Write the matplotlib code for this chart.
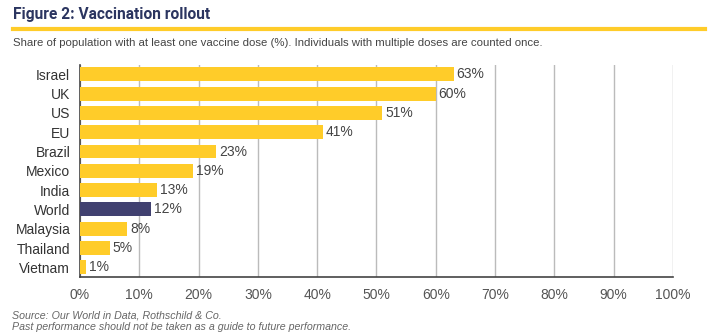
import matplotlib
matplotlib.use("Agg")
import matplotlib.pyplot as plt
import numpy as np

# data
countries = ["Israel", "UK", "US", "EU", "Brazil", "Mexico", "India",
             "World", "Malaysia", "Thailand", "Vietnam"]
share = [63, 60, 51, 41, 23, 19, 13, 12, 8, 5, 1]
xticks = [0, 10, 20, 30, 40, 50, 60, 70, 80, 90, 100]

yellow = "#FFCC29"
navy = "#414170"
grey = "#555555"

plt.rcParams["font.family"] = ["Liberation Sans", "DejaVu Sans"]

fig = plt.figure(figsize=(7.09, 3.36), dpi=100)
ax = fig.add_axes([0.1128, 0.1756, 0.8364, 0.632])

y = np.arange(len(countries))
colors = [navy if c == "World" else yellow for c in countries]
ax.barh(y, share, height=0.72, color=colors, zorder=3)
for yi, v in zip(y, share):
    ax.text(v + 0.5, yi, f"{v}%", va="center", ha="left", fontsize=10,
            color="#444444", zorder=4)

ax.set_ylim(len(countries) - 0.5, -0.5)
ax.set_yticks(y)
ax.set_yticklabels(countries, fontsize=10, color="#333333")
ax.set_xlim(0, 100)
ax.set_xticks(xticks)
ax.set_xticklabels([f"{t}%" for t in xticks], fontsize=10, color=grey)
ax.tick_params(axis="both", length=0, pad=8)
ax.tick_params(axis="y", pad=7)
ax.grid(axis="x", color="#BBBBBB", linewidth=1, zorder=0)
for s in ["top", "right"]:
    ax.spines[s].set_visible(False)
ax.spines["left"].set_color("#444444")
ax.spines["bottom"].set_color("#444444")
ax.spines["left"].set_linewidth(1.2)
ax.spines["bottom"].set_linewidth(1.2)

fig.text(0.018, 0.957, "Figure 2: Vaccination rollout", fontsize=11.2,
         color="#2B3560", va="center", ha="left", weight="bold",
         family=["Roboto", "Liberation Sans", "DejaVu Sans"])
fig.add_artist(plt.Line2D([0.018, 0.995], [0.913, 0.913], color=yellow,
                          linewidth=3, transform=fig.transFigure))
fig.text(0.018, 0.872, "Share of population with at least one vaccine dose (%). "
         "Individuals with multiple doses are counted once.",
         fontsize=8.2, color="#444444", va="center", ha="left")
fig.text(0.017, 0.062, "Source: Our World in Data, Rothschild & Co.",
         fontsize=7.7, color="#666666", style="italic", va="center")
fig.text(0.017, 0.027, "Past performance should not be taken as a guide to future performance.",
         fontsize=7.7, color="#666666", style="italic", va="center")

fig.savefig("out.png", dpi=100)
